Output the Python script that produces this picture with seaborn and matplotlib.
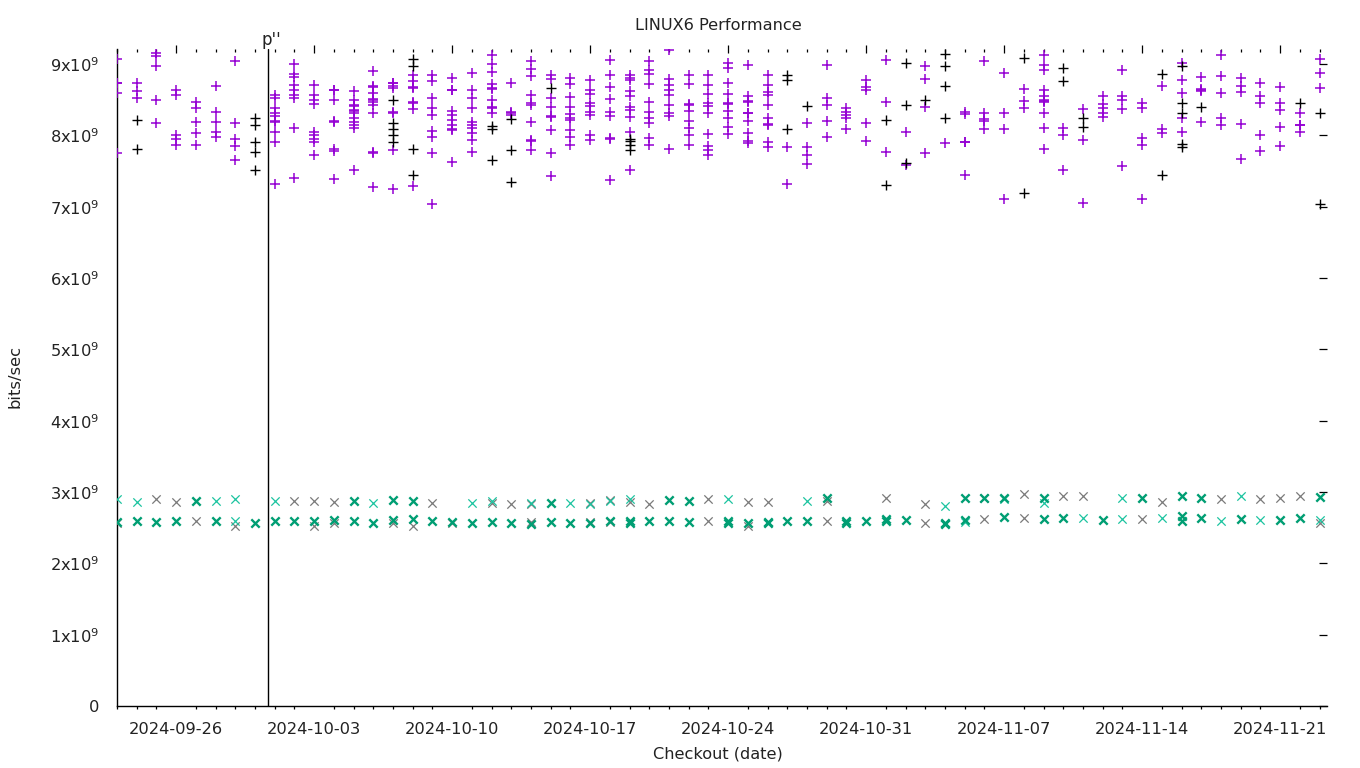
import matplotlib
matplotlib.use("Agg")
import matplotlib.pyplot as plt
import matplotlib.dates as mdates
from matplotlib.ticker import FuncFormatter, MultipleLocator
import pandas as pd
import seaborn as sns

# ---------------- data (values in units of 1e9 bits/sec) ----------------
YEAR = 2024
title = "LINUX6 Performance"
xlabel = "Checkout (date)"
ylabel = "bits/sec"
marker_date = "2024-09-30 16:12"
marker_label = "p''"

hi_purple = {
    "09-23": [9.07, 8.74, 8.73, 8.59, 7.75],
    "09-24": [8.73, 8.62, 8.53],
    "09-25": [9.15, 9.11, 8.97, 8.49, 8.17],
    "09-26": [8.63, 8.57, 8.00, 7.95, 7.86],
    "09-27": [8.47, 8.38, 8.19, 8.03, 7.86],
    "09-28": [8.69, 8.33, 8.19, 8.05, 7.98],
    "09-29": [9.04, 8.17, 7.95, 7.85, 7.66],
    "10-01": [8.56, 8.52, 8.38, 8.31, 8.27, 8.20, 8.19, 8.05, 7.91, 7.32],
    "10-02": [9.00, 8.86, 8.82, 8.70, 8.63, 8.56, 8.52, 8.10, 7.40],
    "10-03": [8.71, 8.56, 8.49, 8.44, 8.05, 8.00, 7.95, 7.91, 7.73],
    "10-04": [8.64, 8.63, 8.50, 8.20, 8.19, 7.81, 7.78, 7.39],
    "10-05": [8.62, 8.49, 8.42, 8.41, 8.35, 8.34, 8.31, 8.24, 8.19, 8.15, 8.11, 7.51],
    "10-06": [8.90, 8.69, 8.68, 8.60, 8.51, 8.50, 8.47, 8.42, 8.31, 7.76, 7.75, 7.28],
    "10-07": [8.74, 8.73, 8.69, 8.66, 8.33, 8.32, 7.80, 7.25],
    "10-08": [8.84, 8.76, 8.68, 8.67, 8.47, 8.46, 8.37, 7.29],
    "10-09": [8.84, 8.76, 8.53, 8.39, 8.28, 8.06, 7.98, 7.75, 7.04],
    "10-10": [8.80, 8.64, 8.63, 8.34, 8.28, 8.22, 8.15, 8.09, 8.08, 7.62],
    "10-11": [8.87, 8.63, 8.53, 8.39, 8.19, 8.15, 8.11, 8.04, 7.94, 7.77],
    "10-12": [9.12, 9.00, 8.89, 8.72, 8.66, 8.65, 8.49, 8.40, 8.38, 8.31],
    "10-13": [8.73, 8.33, 8.32, 8.29],
    "10-14": [9.04, 8.93, 8.83, 8.56, 8.46, 8.42, 8.19, 7.93, 7.92, 7.79],
    "10-15": [8.85, 8.79, 8.53, 8.40, 8.27, 8.26, 8.08, 7.75, 7.43],
    "10-16": [8.80, 8.72, 8.54, 8.40, 8.30, 8.25, 8.21, 8.07, 7.98, 7.87],
    "10-17": [8.77, 8.64, 8.58, 8.46, 8.41, 8.33, 8.28, 8.01, 7.94],
    "10-18": [9.05, 8.85, 8.68, 8.51, 8.33, 8.27, 7.96, 7.95, 7.37],
    "10-19": [8.84, 8.80, 8.77, 8.62, 8.55, 8.40, 8.36, 8.26, 8.05, 7.51],
    "10-20": [9.04, 8.91, 8.86, 8.72, 8.47, 8.33, 8.25, 8.17, 7.96, 7.87],
    "10-21": [9.19, 8.79, 8.71, 8.64, 8.56, 8.43, 8.31, 8.27, 7.81],
    "10-22": [8.85, 8.72, 8.44, 8.43, 8.34, 8.20, 8.10, 8.00, 7.86],
    "10-23": [8.85, 8.70, 8.58, 8.46, 8.41, 8.31, 8.02, 7.85, 7.79, 7.73],
    "10-24": [9.01, 8.95, 8.74, 8.58, 8.46, 8.44, 8.34, 8.24, 8.12, 8.02],
    "10-25": [8.98, 8.55, 8.48, 8.47, 8.32, 8.31, 8.20, 8.03, 7.92, 7.89],
    "10-26": [8.84, 8.70, 8.61, 8.57, 8.42, 8.25, 8.16, 8.15, 7.90, 7.83],
    "10-27": [7.83, 7.32],
    "10-28": [8.17, 7.83, 7.72, 7.60],
    "10-29": [8.98, 8.52, 8.43, 8.20, 7.98],
    "10-30": [8.39, 8.33, 8.29, 8.25, 8.09],
    "10-31": [8.77, 8.68, 8.64, 8.17, 7.92],
    "11-01": [9.05, 8.47, 7.77],
    "11-02": [8.05, 7.59],
    "11-03": [8.97, 8.79, 8.40, 7.75],
    "11-04": [7.89],
    "11-05": [8.33, 8.30, 7.91, 7.90, 7.44],
    "11-06": [9.04, 8.32, 8.23, 8.20, 8.09],
    "11-07": [8.88, 8.32, 8.09, 7.11],
    "11-08": [8.65, 8.48, 8.39],
    "11-09": [9.12, 8.99, 8.92, 8.63, 8.55, 8.49, 8.48, 8.47, 8.31, 8.11, 7.81],
    "11-10": [8.11, 8.00, 7.52],
    "11-11": [8.37, 7.94, 7.05],
    "11-12": [8.55, 8.44, 8.39, 8.31, 8.26],
    "11-13": [8.92, 8.55, 8.49, 8.37, 7.57],
    "11-14": [8.45, 8.39, 7.96, 7.87, 7.11],
    "11-15": [8.69, 8.09, 8.04],
    "11-16": [9.01, 8.77, 8.59, 8.25, 8.05],
    "11-17": [8.82, 8.65, 8.64, 8.62, 8.19],
    "11-18": [9.13, 8.83, 8.59, 8.24, 8.14],
    "11-19": [8.80, 8.69, 8.61, 8.16, 7.67],
    "11-20": [8.73, 8.55, 8.45, 8.01, 7.78],
    "11-21": [8.68, 8.45, 8.36, 8.12, 7.85],
    "11-22": [8.31, 8.15, 8.14, 8.05],
    "11-23": [9.07, 8.87, 8.66],
}

hi_black = {
    "09-24": [8.21, 7.81],
    "09-30": [8.24, 8.15, 7.90, 7.76, 7.51],
    "10-07": [8.49, 8.18, 8.09, 8.00, 7.90],
    "10-08": [9.07, 8.97, 7.81, 7.45],
    "10-12": [8.13, 8.09, 7.65],
    "10-13": [8.23, 7.79, 7.34],
    "10-15": [8.66],
    "10-19": [7.95, 7.92, 7.86, 7.80],
    "10-27": [8.84, 8.77, 8.09],
    "10-28": [8.41],
    "11-01": [8.21, 7.31],
    "11-02": [9.02, 8.43, 7.61],
    "11-03": [8.50],
    "11-04": [9.14, 8.97, 8.69, 8.24],
    "11-08": [9.08, 7.19],
    "11-10": [8.94, 8.76],
    "11-11": [8.24, 8.12],
    "11-15": [8.86, 7.45],
    "11-16": [8.97, 8.46, 8.32, 7.88, 7.84],
    "11-17": [8.40],
    "11-22": [8.46],
    "11-23": [8.32, 7.04],
}

lo_dark = {
    "09-23": [2.58], "09-24": [2.59], "09-25": [2.58], "09-26": [2.60],
    "09-27": [2.88], "09-28": [2.59], "09-30": [2.56], "10-01": [2.59],
    "10-02": [2.59], "10-03": [2.60], "10-04": [2.61], "10-05": [2.88, 2.59],
    "10-06": [2.57], "10-07": [2.89, 2.61], "10-08": [2.88, 2.62], "10-09": [2.59],
    "10-10": [2.58], "10-11": [2.57], "10-12": [2.58], "10-13": [2.57],
    "10-14": [2.55], "10-15": [2.84, 2.58], "10-16": [2.57], "10-17": [2.56],
    "10-18": [2.60], "10-19": [2.60, 2.57], "10-20": [2.59], "10-21": [2.89, 2.60],
    "10-22": [2.88, 2.58], "10-24": [2.60, 2.57], "10-25": [2.56], "10-26": [2.58, 2.56],
    "10-27": [2.59], "10-28": [2.60], "10-29": [2.91], "10-30": [2.59, 2.57],
    "10-31": [2.59], "11-01": [2.62, 2.59], "11-02": [2.61], "11-04": [2.57, 2.55],
    "11-05": [2.92, 2.61], "11-06": [2.92], "11-07": [2.92, 2.65], "11-09": [2.91, 2.62],
    "11-10": [2.64], "11-12": [2.61], "11-14": [2.91], "11-16": [2.94, 2.66, 2.60],
    "11-17": [2.92, 2.63], "11-19": [2.62], "11-21": [2.61], "11-22": [2.63],
    "11-23": [2.93],
}

lo_light = {
    "09-23": [2.90], "09-24": [2.86], "09-28": [2.88], "09-29": [2.90, 2.59],
    "10-01": [2.88], "10-06": [2.85], "10-11": [2.85], "10-12": [2.87],
    "10-14": [2.85], "10-16": [2.85], "10-17": [2.83], "10-18": [2.87],
    "10-19": [2.90], "10-24": [2.90], "10-28": [2.87], "11-04": [2.81],
    "11-05": [2.58], "11-07": [2.90], "11-09": [2.84], "11-11": [2.63],
    "11-13": [2.91, 2.62], "11-15": [2.63], "11-18": [2.59], "11-19": [2.94],
    "11-20": [2.61], "11-23": [2.61],
}

lo_gray = {
    "09-23": [2.57], "09-25": [2.90], "09-26": [2.86], "09-27": [2.59],
    "09-29": [2.52], "10-02": [2.88], "10-03": [2.88, 2.53], "10-04": [2.86, 2.56],
    "10-07": [2.56], "10-08": [2.53], "10-09": [2.85], "10-10": [2.57],
    "10-12": [2.84], "10-13": [2.83], "10-14": [2.83, 2.58], "10-17": [2.85, 2.58],
    "10-18": [2.89, 2.58], "10-19": [2.86], "10-20": [2.83], "10-23": [2.90, 2.59],
    "10-25": [2.86, 2.53], "10-26": [2.86], "10-29": [2.88, 2.59], "11-01": [2.92],
    "11-03": [2.83, 2.57], "11-06": [2.92, 2.62], "11-08": [2.97, 2.64],
    "11-10": [2.94], "11-11": [2.94], "11-14": [2.62], "11-15": [2.86],
    "11-18": [2.90], "11-20": [2.90], "11-21": [2.92], "11-22": [2.94],
    "11-23": [2.56],
}


def frame(d):
    rows = [(pd.Timestamp(f"{YEAR}-{k}"), v * 1e9) for k, vals in d.items() for v in vals]
    return pd.DataFrame(rows, columns=["date", "bps"])


# ---------------- figure ----------------
sns.set_theme(style="white")
plt.rcParams["font.family"] = ["DejaVu Sans"]
plt.rcParams["mathtext.fontset"] = "dejavusans"

W, H = 1360, 768
fig = plt.figure(figsize=(W / 100, H / 100), dpi=100)
L, R, T, B = 117, 1327, 49, 706
ax = fig.add_axes([L / W, 1 - B / H, (R - L) / W, (B - T) / H])

series = [
    (hi_purple, "#9400d3", "+", 48, 1.1),
    (hi_black, "#000000", "+", 48, 1.0),
    (lo_gray, "#7a7a7a", "x", 36, 0.9),
    (lo_light, "#1cc4a0", "x", 36, 0.9),
    (lo_dark, "#009e73", "x", 36, 1.7),
]
for data, col, mk, size, lw in series:
    sns.scatterplot(data=frame(data), x="date", y="bps", ax=ax, marker=mk,
                    color=col, s=size, linewidth=lw, legend=False, zorder=3)

x0 = pd.Timestamp(f"{YEAR}-09-23")
x1 = x0 + pd.Timedelta(days=(R - L) / 19.714)
ymax = (B - T) / 71.33 * 1e9
ax.set_xlim(x0, x1)
ax.set_ylim(0, ymax)

ax.axvline(pd.Timestamp(marker_date), color="black", lw=1.0, zorder=4)
ax.text(pd.Timestamp(marker_date) + pd.Timedelta(hours=3.5), ymax,
        marker_label, ha="center", va="bottom", fontsize=12, color="#222222")

ax.xaxis.set_major_locator(mdates.WeekdayLocator(byweekday=mdates.TH))
ax.xaxis.set_minor_locator(mdates.DayLocator())
ax.xaxis.set_major_formatter(mdates.DateFormatter("%Y-%m-%d"))
ax.yaxis.set_major_locator(MultipleLocator(1e9))
ax.yaxis.set_major_formatter(FuncFormatter(
    lambda v, _: "0" if abs(v) < 1 else f"{int(round(v / 1e9))}x10$^{{9}}$"))

for s in ("top", "right"):
    ax.spines[s].set_visible(False)
for s in ("left", "bottom"):
    ax.spines[s].set_color("black")
    ax.spines[s].set_linewidth(1.0)

ax.tick_params(axis="both", which="major", direction="out", length=5, width=0.9,
               colors="black", labelsize=11.7, labelcolor="#222222")
ax.tick_params(axis="x", which="major", pad=6.5)
ax.tick_params(axis="y", which="major", pad=7.5)
ax.tick_params(axis="x", which="minor", direction="out", length=2.5, width=0.9,
               colors="black", bottom=True)
ax.set_xlabel("")
ax.set_ylabel("")
ax.grid(False)

secx = ax.secondary_xaxis("top")
secx.xaxis.set_major_locator(mdates.WeekdayLocator(byweekday=mdates.TH))
secx.xaxis.set_minor_locator(mdates.DayLocator())
secx.tick_params(axis="x", which="major", direction="inout", length=6, width=0.9,
                 labeltop=False, colors="black")
secx.tick_params(axis="x", which="minor", direction="in", length=2.5, width=0.9,
                 colors="black")
secx.spines["top"].set_visible(False)

secy = ax.secondary_yaxis("right")
secy.yaxis.set_major_locator(MultipleLocator(1e9))
secy.tick_params(axis="y", which="major", direction="in", length=5.5, width=0.9,
                 labelright=False, colors="black")
secy.spines["right"].set_visible(False)

fig.text(718 / W, 1 - 25 / H, title, ha="center", va="center", fontsize=11.6,
         color="#222222")
fig.text(718 / W, 1 - 754 / H, xlabel, ha="center", va="center", fontsize=11.6,
         color="#222222")
fig.text(15 / W, 1 - 376 / H, ylabel, ha="center", va="center", fontsize=11.8,
         rotation=90, color="#222222")

fig.savefig("out.png", dpi=100, facecolor="white")
